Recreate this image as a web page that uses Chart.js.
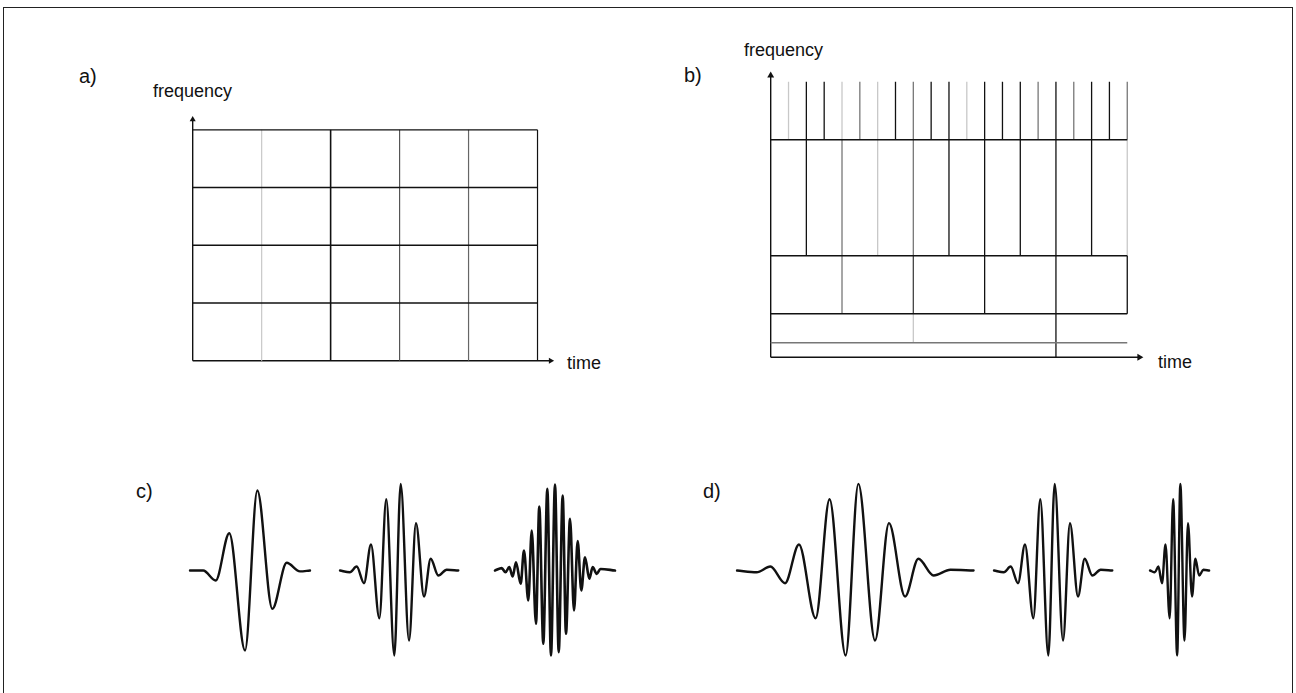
<!DOCTYPE html>
<html>
<head>
<meta charset="utf-8">
<script src="https://cdn.jsdelivr.net/npm/chart.js@4.4.1/dist/chart.umd.min.js"></script>
<style>
html, body { margin: 0; padding: 0; background: #fff; }
body { width: 1296px; height: 693px; position: relative; overflow: hidden;
       font-family: "Liberation Sans", Arial, sans-serif; color: #111; }
.frame { position: absolute; left: 3px; top: 7px; width: 1288px; height: 700px;
         border: 1.5px solid #222; border-bottom: none; }
.lbl { position: absolute; white-space: nowrap; line-height: 1; font-size: 18px; }
.big { font-size: 20px; }
.box { position: absolute; }
</style>
</head>
<body>
<div class="frame"></div>
<div class="lbl big" style="left:79px;top:66px">a)</div>
<div class="lbl" style="left:153px;top:82px">frequency</div>
<div class="lbl" style="left:567px;top:354px">time</div>
<div class="lbl big" style="left:684px;top:65px">b)</div>
<div class="lbl" style="left:744px;top:41px">frequency</div>
<div class="lbl" style="left:1158px;top:353px">time</div>
<div class="lbl big" style="left:136px;top:481px">c)</div>
<div class="lbl big" style="left:703px;top:481px">d)</div>

<script>
// a) short-time Fourier tiling: column and band edges
const aTimeEdges = [0, 1, 2, 3, 4, 5]
const aFreqEdges = [0, 1, 2, 3, 4]
const aAxisEnds = [5.19, 4.18]   // time, frequency (arrow centres)

// b) wavelet tiling: band edges and cell width per band (bottom to top)
const bFreqEdges = [0, 1, 3, 7, 15, 19]
const bCellWidths = [16, 8, 4, 2, 1]
const bTimeSpan = 20
const bAxisEnds = [20.68, 19.43]

// c) windowed sinusoids, [time, amplitude] turning points
const waveLow = [[-1, 0], [-0.78, 0], [-0.572, -0.111], [-0.345, 0.414], [-0.083, -0.889],
  [0.122, 0.889], [0.372, -0.426], [0.612, 0.086], [0.833, -0.01], [1, 0]]
const waveMid = [[-0.983, 0], [-0.82, -0.02], [-0.705, 0.044], [-0.583, -0.141], [-0.467, 0.289],
  [-0.328, -0.53], [-0.212, 0.792], [-0.078, -0.944], [0.028, 0.963], [0.167, -0.778],
  [0.283, 0.526], [0.417, -0.289], [0.528, 0.13], [0.655, -0.056], [0.795, 0.008], [0.988, 0]]
const waveHigh = [[-1, 0], [-0.888, 0.026], [-0.825, -0.02], [-0.762, 0.037], [-0.705, -0.067],
  [-0.65, 0.092], [-0.572, -0.148], [-0.517, 0.222], [-0.445, -0.333], [-0.388, 0.444],
  [-0.317, -0.592], [-0.262, 0.711], [-0.195, -0.814], [-0.128, 0.908], [-0.067, -0.944],
  [0, 0.956], [0.062, -0.908], [0.128, 0.833], [0.183, -0.703], [0.25, 0.574],
  [0.317, -0.444], [0.378, 0.326], [0.438, -0.222], [0.5, 0.148], [0.572, -0.092],
  [0.628, 0.037], [0.695, -0.037], [0.758, 0.017], [1, 0]]

// d) the same wavelet at three scales
const dScales = [2, 1, 0.5]

// ---- styles ----
const INK = '#111', MED = '#444', GRAY = '#777', FAINT = '#c8c8c8'
const aColColor = [INK, FAINT, INK, '#555', '#666', INK]
// b) per band index: time positions drawn lighter / hidden
const bFaint = { 1: [8], 3: [6, 20], 4: [1, 4, 6, 11] }
const bGray = { 2: [4], 3: [4, 8], 4: [5, 8, 15, 17, 20] }
const bMed = { 2: [8] }
const bHidden = { 0: [20], 1: [20] }

function has( map, i, t ) {
  return (map[i] || []).includes(t)
}

function seg( x0, y0, x1, y1, color, width ) {
  return {
    data: [{ x: x0, y: y0 }, { x: x1, y: y1 }],
    showLine: true, borderColor: color, borderWidth: width || 1.4,
    pointRadius: 0, tension: 0, clip: false
  }
}

function arrow( x1, y1, rot, size ) {
  return {
    data: [{ x: 0, y: 0 }, { x: x1, y: y1 }],
    showLine: true, borderColor: INK, borderWidth: 1.4, tension: 0, clip: false,
    pointRadius: [0, size], pointStyle: 'triangle', rotation: rot,
    pointBackgroundColor: INK, pointBorderColor: INK, pointBorderWidth: 0
  }
}

function mount( origin, unit, xr, yr, datasets ) {
  const box = document.createElement('div')
  box.className = 'box'
  box.style.left = Math.round(origin[0] + xr[0] * unit[0]) + 'px'
  box.style.top = Math.round(origin[1] - yr[1] * unit[1]) + 'px'
  box.style.width = Math.round((xr[1] - xr[0]) * unit[0]) + 'px'
  box.style.height = Math.round((yr[1] - yr[0]) * unit[1]) + 'px'
  const cv = document.createElement('canvas')
  box.appendChild(cv)
  document.body.appendChild(box)
  return new Chart(cv, {
    type: 'scatter',
    data: { datasets },
    options: {
      responsive: true, maintainAspectRatio: false, animation: false, events: [],
      layout: { padding: 0 },
      plugins: { legend: { display: false }, tooltip: { enabled: false } },
      scales: {
        x: { type: 'linear', display: false, min: xr[0], max: xr[1] },
        y: { type: 'linear', display: false, min: yr[0], max: yr[1] }
      }
    }
  })
}

// ---- a) ----
const aSets = []
const aTop = aFreqEdges[aFreqEdges.length - 1]
const aRight = aTimeEdges[aTimeEdges.length - 1]
aFreqEdges.slice(1).forEach(f => aSets.push(seg(0, f, aRight, f, INK)))
aTimeEdges.slice(1).forEach(( t, i ) => aSets.push(seg(t, 0, t, aTop, aColColor[i + 1], i === 1 ? 1.6 : 1.2)))
aSets.push(arrow(aAxisEnds[0], 0, 90, 3.5))
aSets.push(arrow(0, aAxisEnds[1], 0, 3.5))
mount([189, 364], [70.4, 59.3], [-0.3, 5.5], [-0.3, 4.5], aSets)

// ---- b) ----
const bSets = []
bFreqEdges.slice(1, -1).forEach(( f, i ) => bSets.push(seg(0, f, bTimeSpan, f, i === 0 ? GRAY : INK)))
bCellWidths.forEach(( w, i ) => {
  const f0 = bFreqEdges[i], f1 = bFreqEdges[i + 1]
  const ts = []
  for ( let t = w; t < bTimeSpan; t += w ) ts.push(t)
  ts.push(bTimeSpan)
  ts.forEach(t => {
    if ( has(bHidden, i, t) ) return
    let c = INK
    if ( has(bFaint, i, t) ) c = FAINT
    else if ( has(bGray, i, t) ) c = GRAY
    else if ( has(bMed, i, t) ) c = MED
    bSets.push(seg(t, f0, t, f1, c, 1.3))
  })
})
bSets.push(arrow(bAxisEnds[0], 0, 90, 4))
bSets.push(arrow(0, bAxisEnds[1], 0, 4))
mount([766.7, 361.7], [18.2, 14.9], [-0.6, 21.5], [-0.6, 20.5], bSets)

// ---- c) and d) ----
function waveSet( pts, width ) {
  return {
    data: pts.map(p => ({ x: p[0], y: p[1] })),
    showLine: true, borderColor: INK, borderWidth: width, pointRadius: 0,
    cubicInterpolationMode: 'monotone', borderJoinStyle: 'round', borderCapStyle: 'round', clip: false
  }
}
const range = [-1.05, 1.05]
const cCentres = [250, 399, 555]
;[waveLow, waveMid, waveHigh].forEach(( w, i ) => {
  mount([cCentres[i], 570], [60, 90], range, range, [waveSet(w, i === 2 ? 2.6 : 2.4)])
})
const dCentres = [855, 1052.7, 1179]
dScales.forEach(( s, i ) => {
  mount([dCentres[i], 570], [60 * s, 90], range, range, [waveSet(waveMid, i === 2 ? 2.4 : 2.4)])
})
</script>
</body>
</html>
